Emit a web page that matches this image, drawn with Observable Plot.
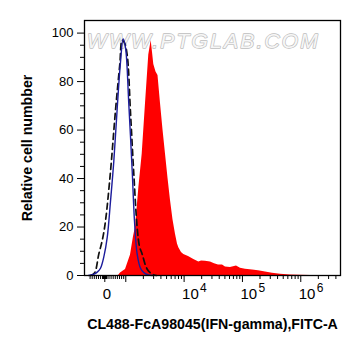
<!DOCTYPE html>
<html><head><meta charset="utf-8">
<script src="https://cdn.jsdelivr.net/npm/d3@7"></script>
<script src="https://cdn.jsdelivr.net/npm/@observablehq/plot@0.6"></script>
<style>html,body{margin:0;padding:0;background:#fff;} svg{display:block}</style>
</head><body><div id="chart"></div>
<script>
// x values are positions on the biexponential display axis, in log10 units (0 sits at 2.64)
const sampleX = [2.875,2.909,2.995,3.081,3.132,3.167,3.223,3.281,3.338,3.394,3.435,3.458,3.480,3.518,3.552,3.595,3.638,3.681,3.724,3.766,3.809,3.852,3.886,3.909,3.955,3.994,4.075,4.166,4.252,4.298,4.366,4.452,4.521,4.589,4.658,4.709,4.795,4.898,4.966,5.052,5.172,5.275,5.395,5.515,5.652,5.823,5.995,6.166];
const sampleY = [0,1,2.5,8.5,16,20,36,50,71,91,96.9,92,87,84,82.5,71,60,50,40,31,23,17,13,11.4,9.5,8.7,7.8,6.6,5.6,6.0,5.9,5.6,4.8,4.3,4.3,3.5,3.3,3.9,3.0,2.6,2.3,2.0,1.4,0.9,0.5,0.2,0.1,0];
const isotypeX = [2.361,2.446,2.515,2.566,2.626,2.681,2.738,2.794,2.853,2.909,2.955,2.995,3.051,3.110,3.149,3.195,3.252,3.309,3.389,3.458];
const isotypeY = [0,0.5,1.5,3,8,15.6,30.7,47,69,88,97.6,94,71,43,22.5,8.8,3,1.2,0.2,0];
const blankX = [2.395,2.463,2.537,2.601,2.652,2.738,2.823,2.897,2.938,2.978,3.024,3.081,3.137,3.195,3.235,3.281,3.367,3.458,3.526];
const blankY = [0,1,8.8,15,22.5,43,68,87,97,96,91,67,42,19.7,12,8.8,2.6,0.5,0];

const yTickValues = [0,20,40,60,80,100];
const xTickLabels = ["0","10","10","10"];
const xTickExponents = ["","4","5","6"];
const xTickLabelPos = [2.64,4,5,6];
const xTitle = "CL488-FcA98045(IFN-gamma),FITC-A";
const yTitle = "Relative cell numbber";
const watermark = "WWW.PTGLAB.COM";

const toRows = (xs, ys) => xs.map((x, i) => ({x, y: ys[i]}));
const sample = toRows(sampleX, sampleY);
const isotype = toRows(isotypeX, isotypeY);
const blank = toRows(blankX, blankY);

const zero = 2.64, linScale = 0.00036;
const yMinor = d3.range(5, 105, 5).filter(v => v % 20 !== 0);
const xMajor = [zero, 3, 4, 5, 6];
const xMinor = [];
for (let v = -700; v <= 900; v += 100) if (v !== 0) xMinor.push(zero + v * linScale);
for (let v = -90; v <= 90; v += 10) xMinor.push(zero + v * linScale);
for (let e = 3; e <= 6; e++) for (let k = 2; k <= 9; k++) { const p = e + Math.log10(k); if (p < 6.68) xMinor.push(p); }

const font = "'Liberation Sans', Arial, sans-serif";
const chart = Plot.plot({
  width: 361, height: 356,
  marginLeft: 84, marginRight: 21, marginTop: 20, marginBottom: 81,
  style: {fontFamily: font, background: "white", color: "black"},
  x: {domain: [2.292, 6.681]},
  y: {domain: [0, 105.2]},
  marks: [
    Plot.text([watermark], {text: d => d, frameAnchor: "top", dx: -9, dy: 13, fontSize: 21, fontStyle: "italic", fill: "#f6f6f6", stroke: "#bdbdbd", strokeWidth: 1.4}),
    Plot.areaY(sample, {x: "x", y: "y", fill: "#ff0000"}),
    Plot.line(blank, {x: "x", y: "y", stroke: "#111", strokeWidth: 1.7, strokeDasharray: "6,4", curve: "catmull-rom"}),
    Plot.line(isotype, {x: "x", y: "y", stroke: "#1c1c9c", strokeWidth: 1.4, curve: "catmull-rom"}),
    Plot.frame({stroke: "black", strokeWidth: 1.3}),
    Plot.axisY({ticks: yTickValues, tickSize: 7, tickPadding: 4, fontSize: 13, label: null, tickFormat: d => String(d)}),
    Plot.axisY({ticks: yMinor, tickSize: 4, label: null, tickFormat: () => ""}),
    Plot.axisX({ticks: xMajor, tickSize: 7, label: null, tickFormat: () => ""}),
    Plot.axisX({ticks: xMinor, tickSize: 4, label: null, tickFormat: () => ""}),
    Plot.text(xTickLabelPos, {x: d => d, text: (d, i) => xTickLabels[i], frameAnchor: "bottom", textAnchor: "start", dx: -2, dy: 23, fontSize: 15}),
    Plot.text(xTickLabelPos, {x: d => d, text: (d, i) => xTickExponents[i], frameAnchor: "bottom", textAnchor: "start", dx: 16, dy: 16, fontSize: 12}),
    Plot.text([yTitle], {text: d => d, frameAnchor: "left", textAnchor: "middle", dx: -57, rotate: -90, fontWeight: "bold", fontSize: 14.2}),
    Plot.text([xTitle], {text: d => d, frameAnchor: "bottom", dy: 53, fontWeight: "bold", fontSize: 14.2})
  ]
});
chart.querySelectorAll("text").forEach(t => { if (t.textContent === watermark) t.setAttribute("letter-spacing", "2.2"); });
document.getElementById("chart").append(chart);
</script>
</body></html>
